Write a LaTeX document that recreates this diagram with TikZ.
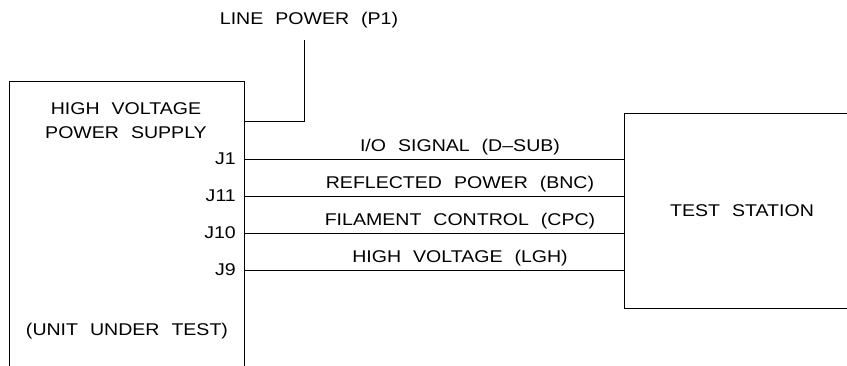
\documentclass[tikz,border=0pt]{standalone}
\usepackage{fontspec}
\setmainfont{Liberation Sans}[FakeStretch=1.15,WordSpace=2.2]
\usetikzlibrary{positioning}

\begin{document}
\begin{tikzpicture}[
  x=1pt, y=-1pt,
  font=\fontsize{17}{24}\selectfont,
  unit/.style={rectangle, inner sep=0pt},
  lbl/.style={inner sep=0pt},
  port/.style={lbl, anchor=east},
  wire/.style={line width=.9pt, line cap=rect},
  wirelabel/.style={pos=.567, anchor=base, yshift=7pt, inner sep=0pt}
]
\useasboundingbox (0,0) rectangle (847,366);
\node[unit, minimum width=234pt, minimum height=290pt] (hvps) at (127,227) {};
\node[unit, minimum width=234pt, minimum height=195pt] (ts) at (742,211) {TEST STATION};
\draw[wire] (hvps.south west) -- (hvps.north west) -- (hvps.north east) -- (hvps.south east);
\draw[wire] (ts.north east) -- (ts.north west) -- (ts.south west) -- (ts.south east);

\node[lbl, align=center] (title) at (126,121) {HIGH VOLTAGE\\POWER SUPPLY};
\node[lbl] (uut) at (127,331.5) {(UNIT UNDER TEST)};
\node[port] (l1) at (236,159) {J1};
\node[port] (l11) at (236,196) {J11};
\node[port] (l10) at (236,233) {J10};
\node[port] (l9) at (236,270) {J9};

\node[lbl] (line) at (309,20) {LINE POWER (P1)};
\coordinate (pwr) at (244,121);
\coordinate (p1) at (304,40);
\draw[wire] (pwr) -| (p1);

\coordinate (j1) at (hvps.east |- l1);
\coordinate (j11) at (hvps.east |- l11);
\coordinate (j10) at (hvps.east |- l10);
\coordinate (j9) at (hvps.east |- l9);
\draw[wire] (j1) -- node[wirelabel] {I/O SIGNAL (D--SUB)} (j1 -| ts.west);
\draw[wire] (j11) -- node[wirelabel] {REFLECTED POWER (BNC)} (j11 -| ts.west);
\draw[wire] (j10) -- node[wirelabel] {FILAMENT CONTROL (CPC)} (j10 -| ts.west);
\draw[wire] (j9) -- node[wirelabel] {HIGH VOLTAGE (LGH)} (j9 -| ts.west);
\end{tikzpicture}
\end{document}
